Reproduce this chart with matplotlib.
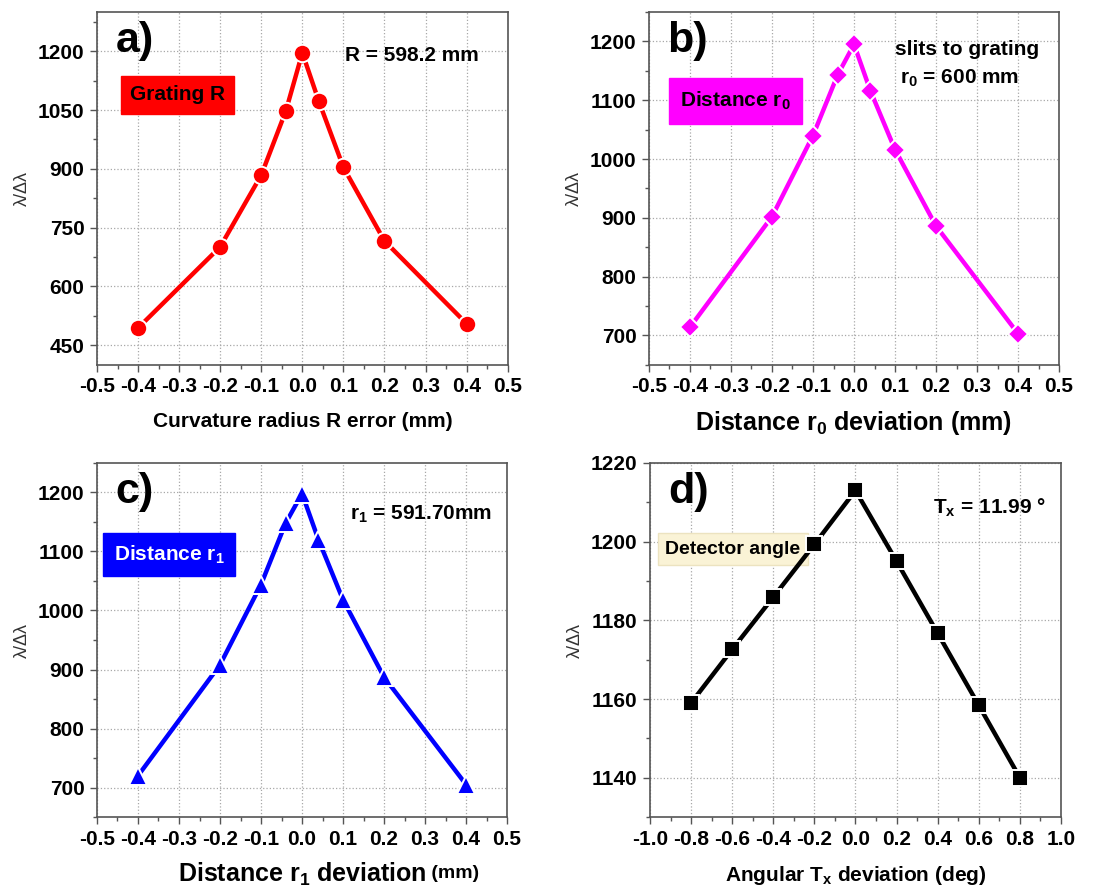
import matplotlib
matplotlib.use("Agg")
import matplotlib.pyplot as plt
from matplotlib.ticker import MultipleLocator

plt.rcParams['font.family'] = ['Liberation Sans', 'DejaVu Sans']
plt.rcParams['mathtext.fontset'] = 'custom'
plt.rcParams['mathtext.default'] = 'regular'
plt.rcParams['axes.unicode_minus'] = False

# resolution vs. misalignment of each element
x_R = [-0.4, -0.2, -0.1, -0.04, 0.0, 0.04, 0.1, 0.2, 0.4]
res_R = [494, 701, 884, 1048, 1196, 1073, 904, 716, 505]

x_r0 = [-0.4, -0.2, -0.1, -0.04, 0.0, 0.04, 0.1, 0.2, 0.4]
res_r0 = [714, 902, 1040, 1143, 1195, 1116, 1016, 886, 703]

x_r1 = [-0.4, -0.2, -0.1, -0.04, 0.0, 0.04, 0.1, 0.2, 0.4]
res_r1 = [720, 908, 1044, 1148, 1198, 1120, 1018, 887, 705]

x_Tx = [-0.8, -0.6, -0.4, -0.2, 0.0, 0.2, 0.4, 0.6, 0.8]
res_Tx = [1159, 1172.6, 1185.9, 1199.3, 1213, 1195, 1176.7, 1158.4, 1140]

fig = plt.figure(figsize=(11.16, 8.92), dpi=100)
ax_a = fig.add_axes([0.0869, 0.591, 0.368, 0.3955])
ax_b = fig.add_axes([0.5815, 0.591, 0.3675, 0.3955])
ax_c = fig.add_axes([0.0869, 0.084, 0.3675, 0.397])
ax_d = fig.add_axes([0.5824, 0.084, 0.3683, 0.397])


def style(ax, xlim, xmaj, xmin, ylim, ymaj, ymin):
    ax.set_xlim(*xlim)
    ax.set_ylim(*ylim)
    ax.xaxis.set_major_locator(MultipleLocator(xmaj))
    ax.xaxis.set_minor_locator(MultipleLocator(xmin))
    ax.yaxis.set_major_locator(MultipleLocator(ymaj))
    ax.yaxis.set_minor_locator(MultipleLocator(ymin))
    ax.grid(True, which='major', linestyle=':', color='#a8a8a8', linewidth=0.9)
    ax.set_axisbelow(True)
    for s in ax.spines.values():
        s.set_color('#555555')
        s.set_linewidth(1.2)
    ax.tick_params(which='both', direction='out', top=False, right=False,
                   color='#555555', width=1.0)
    ax.tick_params(which='major', length=5, labelsize=15, pad=4)
    ax.tick_params(which='minor', length=3)
    for lab in ax.get_xticklabels() + ax.get_yticklabels():
        lab.set_fontweight('bold')
    ax.set_ylabel('λ/Δλ', fontsize=13, color='#333333', labelpad=5)


def curve(ax, x, y, color, marker, ms):
    ax.plot(x, y, color=color, linewidth=3.2, marker=marker, markersize=ms,
            markerfacecolor=color, markeredgecolor='white', markeredgewidth=1.4,
            zorder=3)


def note(ax, x, y, s, size=15, **kw):
    ax.text(x, y, s, transform=ax.transAxes, fontsize=size, fontweight='bold',
            ha='center', va='center', **kw)


def panel_tag(ax, s):
    ax.text(0.045, 0.975, s, transform=ax.transAxes, fontsize=31, fontweight='bold',
            va='top', ha='left')


# a) grating radius
curve(ax_a, x_R, res_R, '#ff0000', 'o', 12.5)
style(ax_a, (-0.5, 0.5), 0.1, 0.05, (400, 1300), 150, 75)
ax_a.set_xlabel('Curvature radius R error (mm)', fontsize=15, fontweight='bold', labelpad=11)
panel_tag(ax_a, 'a)')
note(ax_a, 0.766, 0.878, 'R = 598.2 mm')
note(ax_a, 0.196, 0.765, 'Grating R',
     bbox=dict(boxstyle='square,pad=0.45', facecolor='#ff0000', edgecolor='#ff0000'))

# b) slits to grating distance
curve(ax_b, x_r0, res_r0, '#ff00ff', 'D', 10)
style(ax_b, (-0.5, 0.5), 0.1, 0.05, (650, 1250), 100, 50)
ax_b.set_xlabel('Distance r$_0$ deviation (mm)', fontsize=18, fontweight='bold', labelpad=9)
panel_tag(ax_b, 'b)')
note(ax_b, 0.776, 0.895, 'slits to grating')
note(ax_b, 0.758, 0.812, 'r$_0$ = 600 mm')
note(ax_b, 0.211, 0.748, 'Distance r$_0$',
     bbox=dict(boxstyle='square,pad=0.55', facecolor='#ff00ff', edgecolor='#ff00ff'))

# c) grating to detector distance
curve(ax_c, x_r1, res_r1, '#0000ff', '^', 12.5)
style(ax_c, (-0.5, 0.5), 0.1, 0.05, (650, 1250), 100, 50)
xl = ax_c.set_xlabel('Distance r$_1$ deviation', fontsize=18, fontweight='bold', labelpad=9)
ax_c.annotate(' (mm)', xy=(1, 0.02), xycoords=xl, xytext=(0, 4), textcoords='offset points',
              fontsize=14, fontweight='bold', ha='left', va='bottom', annotation_clip=False)
panel_tag(ax_c, 'c)')
note(ax_c, 0.79, 0.855, 'r$_1$ = 591.70mm')
note(ax_c, 0.1756, 0.7415, 'Distance r$_1$', color='white',
     bbox=dict(boxstyle='square,pad=0.5', facecolor='#0000ff', edgecolor='#0000ff'))

# d) detector angle
curve(ax_d, x_Tx, res_Tx, '#000000', 's', 11)
style(ax_d, (-1.0, 1.0), 0.2, 0.1, (1130, 1220), 20, 10)
ax_d.set_xlabel('Angular T$_x$ deviation (deg)', fontsize=15, fontweight='bold', labelpad=11)
panel_tag(ax_d, 'd)')
note(ax_d, 0.827, 0.873, 'T$_x$ = 11.99 °')
note(ax_d, 0.202, 0.757, 'Detector angle', size=14, zorder=2,
     bbox=dict(boxstyle='square,pad=0.4', facecolor='#faf3d6', edgecolor='#ece3c0'))

fig.savefig('out.png', dpi=100)
